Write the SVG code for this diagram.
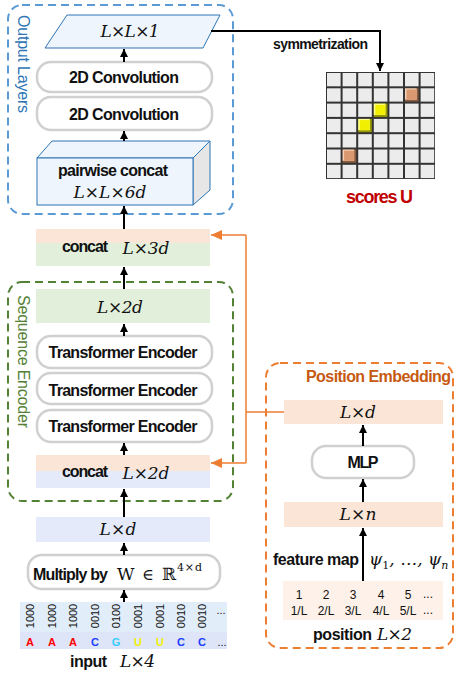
<svg xmlns="http://www.w3.org/2000/svg" width="459" height="673" viewBox="0 0 459 673">
<defs>
<marker id="ah" markerUnits="userSpaceOnUse" markerWidth="9" markerHeight="9" refX="8" refY="4.5" orient="auto"><path d="M0,0.5 L8,4.5 L0,8.5 z" fill="#000"/></marker>
<marker id="aho" markerUnits="userSpaceOnUse" markerWidth="12" markerHeight="10" refX="11" refY="5" orient="auto"><path d="M0,0 L11,5 L0,10 z" fill="#ed7d31"/></marker>
<style>
.b{font-family:"Liberation Sans",Arial,sans-serif;font-weight:bold;font-size:16px;fill:#111}
.r{font-family:"Liberation Sans",Arial,sans-serif;font-size:16px}
.m{font-family:"DejaVu Serif","Liberation Serif",serif;font-style:italic;font-size:17px;fill:#111}
.pill{fill:#fff;stroke:#d0d0d0;stroke-width:2.5}
.blk{stroke:#000;stroke-width:2;fill:none;marker-end:url(#ah)}
.org{stroke:#ed7d31;stroke-width:1.5;fill:none}
.peach{fill:#fbe5d6}
.green{fill:#e2efda}
.blue{fill:#e4eafa}
.nt{font-family:"Liberation Sans",Arial,sans-serif;font-size:11px;fill:#111;text-anchor:middle}
.pt{font-family:"Liberation Sans",Arial,sans-serif;font-size:12px;fill:#111;text-anchor:middle}
.let{font-family:"Liberation Sans",Arial,sans-serif;font-weight:bold;font-size:11px;text-anchor:middle}
.sr{font-family:"DejaVu Serif","Liberation Serif",serif;fill:#111}
</style>
</defs>
<rect width="459" height="673" fill="#fff"/>

<g id="output-layers">
<rect x="8" y="5" width="225" height="209" rx="14" fill="none" stroke="#5b9bd5" stroke-width="2" stroke-dasharray="8,5"/>
<text class="r" transform="translate(18,15) rotate(90)" fill="#2e75b6" textLength="98">Output Layers</text>
</g>

<g id="sequence-encoder">
<rect x="8" y="282" width="225" height="219" rx="14" fill="none" stroke="#548235" stroke-width="2" stroke-dasharray="8,5"/>
<text class="r" transform="translate(18,295) rotate(90)" fill="#548235" textLength="133">Sequence Encoder</text>
</g>

<g id="position-embedding">
<rect x="266" y="363" width="187" height="285" rx="14" fill="none" stroke="#ed7d31" stroke-width="2" stroke-dasharray="8,5"/>
<text class="b" x="451" y="382" text-anchor="end" style="fill:#c65911;font-size:16px" textLength="145">Position Embedding</text>
</g>

<g id="llx1">
<polygon points="67,15 220,15 203,48 45,48" fill="#eef5fc" stroke="#2e75b6" stroke-width="1"/>
<text class="m" x="130" y="37" text-anchor="middle" textLength="59">L×L×1</text>
</g>

<g id="conv1">
<rect class="pill" x="37" y="62" width="175" height="30" rx="14"/>
<text class="b" x="124" y="83" text-anchor="middle" textLength="110">2D Convolution</text>
</g>
<g id="conv2">
<rect class="pill" x="37" y="97" width="175" height="33" rx="14"/>
<text class="b" x="124" y="120" text-anchor="middle" textLength="110">2D Convolution</text>
</g>

<g id="pairwise">
<polygon points="37,158 52,141 210,141 193,158" fill="#eef5fc" stroke="#2e75b6" stroke-width="1"/>
<polygon points="193,158 210,141 210,190 193,205" fill="#e6e6e6" stroke="#2e75b6" stroke-width="1"/>
<rect x="37" y="158" width="156" height="47" fill="#eef5fc" stroke="#2e75b6" stroke-width="1"/>
<text class="b" x="113" y="176" text-anchor="middle" textLength="110">pairwise concat</text>
<text class="m" x="110" y="198" text-anchor="middle" textLength="73">L×L×6d</text>
</g>

<g id="concat3d">
<rect class="peach" x="36" y="229" width="174" height="14"/>
<rect class="green" x="36" y="243" width="174" height="23"/>
<text class="b" x="85" y="252" text-anchor="middle" textLength="46">concat</text>
<text class="m" x="146" y="254" text-anchor="middle" textLength="47">L×3d</text>
</g>

<g id="l2d">
<rect class="green" x="36" y="289" width="174" height="34"/>
<text class="m" x="120" y="313" text-anchor="middle" textLength="46">L×2d</text>
</g>

<g id="te1">
<rect class="pill" x="37" y="336" width="175" height="32" rx="14"/>
<text class="b" x="123" y="358" text-anchor="middle" textLength="149">Transformer Encoder</text>
</g>
<g id="te2">
<rect class="pill" x="37" y="373" width="175" height="31" rx="14"/>
<text class="b" x="123" y="396" text-anchor="middle" textLength="149">Transformer Encoder</text>
</g>
<g id="te3">
<rect class="pill" x="37" y="410" width="175" height="32" rx="14"/>
<text class="b" x="123" y="432" text-anchor="middle" textLength="149">Transformer Encoder</text>
</g>

<g id="concat2d">
<rect class="peach" x="36" y="455" width="174" height="16"/>
<rect class="blue" x="36" y="471" width="174" height="17"/>
<text class="b" x="85" y="477" text-anchor="middle" textLength="46">concat</text>
<text class="m" x="146" y="479" text-anchor="middle" textLength="47">L×2d</text>
</g>

<g id="ld">
<rect class="blue" x="36" y="517" width="174" height="25"/>
<text class="m" x="118" y="535" text-anchor="middle" textLength="37">L×d</text>
</g>

<g id="multiply">
<rect class="pill" x="28" y="555" width="192" height="34" rx="14"/>
<text class="b" x="33" y="580" textLength="75">Multiply by</text>
<text class="sr" x="117" y="580" font-size="17">W</text>
<text class="sr" x="142" y="580" font-size="16">∈</text>
<text class="sr" x="162" y="580" font-size="17">ℝ</text>
<text class="sr" x="177" y="571" font-size="11" textLength="25">4×d</text>
</g>

<g id="input">
<rect x="20" y="602" width="207" height="30" fill="#e1eef9"/>
<rect x="20" y="632" width="207" height="17" fill="#dfe5f8"/>
<text class="nt" transform="translate(34,616) rotate(-90)">1000</text>
<text class="nt" transform="translate(56,616) rotate(-90)">1000</text>
<text class="nt" transform="translate(77,616) rotate(-90)">1000</text>
<text class="nt" transform="translate(99,616) rotate(-90)">0010</text>
<text class="nt" transform="translate(120,616) rotate(-90)">0100</text>
<text class="nt" transform="translate(142,616) rotate(-90)">0001</text>
<text class="nt" transform="translate(164,616) rotate(-90)">0001</text>
<text class="nt" transform="translate(185,616) rotate(-90)">0010</text>
<text class="nt" transform="translate(206,616) rotate(-90)">0010</text>
<text class="nt" x="221" y="614">...</text>
<text class="let" x="30" y="646" fill="#ff0000">A</text>
<text class="let" x="52" y="646" fill="#ff0000">A</text>
<text class="let" x="73" y="646" fill="#ff0000">A</text>
<text class="let" x="95" y="646" fill="#1a3cff">C</text>
<text class="let" x="116" y="646" fill="#33ccff">G</text>
<text class="let" x="138" y="646" fill="#f0f000">U</text>
<text class="let" x="160" y="646" fill="#f0f000">U</text>
<text class="let" x="181" y="646" fill="#1a3cff">C</text>
<text class="let" x="202" y="646" fill="#1a3cff">C</text>
<text class="nt" x="222" y="646">...</text>
<text class="b" x="70" y="667" textLength="37">input</text>
<text class="m" x="120" y="667" textLength="35">L×4</text>
</g>

<g id="pe-ld">
<rect class="peach" x="284" y="400" width="159" height="24"/>
<text class="m" x="358" y="418" text-anchor="middle" textLength="36">L×d</text>
</g>
<g id="mlp">
<rect class="pill" x="312" y="446" width="102" height="32" rx="14"/>
<text class="b" x="363" y="468" text-anchor="middle" textLength="31">MLP</text>
</g>
<g id="pe-ln">
<rect class="peach" x="284" y="502" width="159" height="25"/>
<text class="m" x="358" y="520" text-anchor="middle" textLength="37">L×n</text>
</g>
<g id="position">
<rect x="283" y="581" width="160" height="39" fill="#fdf1ea"/>
<text class="pt" x="299" y="599">1</text>
<text class="pt" x="326" y="599">2</text>
<text class="pt" x="353" y="599">3</text>
<text class="pt" x="381" y="599">4</text>
<text class="pt" x="408" y="599">5</text>
<text class="pt" x="428" y="598">...</text>
<text class="pt" x="299" y="615">1/L</text>
<text class="pt" x="326" y="615">2/L</text>
<text class="pt" x="353" y="615">3/L</text>
<text class="pt" x="381" y="615">4/L</text>
<text class="pt" x="408" y="615">5/L</text>
<text class="pt" x="428" y="614">...</text>
<text class="b" x="313" y="640" textLength="59">position</text>
<text class="m" x="377" y="640" textLength="35">L×2</text>
</g>

<g id="scores">
<rect x="326" y="72" width="109" height="107" fill="#333"/>
<g fill="#ececec">
<rect x="327" y="73" width="13.6" height="13.3"/><rect x="342.6" y="73" width="13.6" height="13.3"/><rect x="358.2" y="73" width="13.6" height="13.3"/><rect x="373.8" y="73" width="13.6" height="13.3"/><rect x="389.4" y="73" width="13.6" height="13.3"/><rect x="405" y="73" width="13.6" height="13.3"/><rect x="420.6" y="73" width="13.6" height="13.3"/>
<rect x="327" y="88.3" width="13.6" height="13.3"/><rect x="342.6" y="88.3" width="13.6" height="13.3"/><rect x="358.2" y="88.3" width="13.6" height="13.3"/><rect x="373.8" y="88.3" width="13.6" height="13.3"/><rect x="389.4" y="88.3" width="13.6" height="13.3"/><rect x="420.6" y="88.3" width="13.6" height="13.3"/>
<rect x="327" y="103.6" width="13.6" height="13.3"/><rect x="342.6" y="103.6" width="13.6" height="13.3"/><rect x="358.2" y="103.6" width="13.6" height="13.3"/><rect x="389.4" y="103.6" width="13.6" height="13.3"/><rect x="405" y="103.6" width="13.6" height="13.3"/><rect x="420.6" y="103.6" width="13.6" height="13.3"/>
<rect x="327" y="118.9" width="13.6" height="13.3"/><rect x="342.6" y="118.9" width="13.6" height="13.3"/><rect x="373.8" y="118.9" width="13.6" height="13.3"/><rect x="389.4" y="118.9" width="13.6" height="13.3"/><rect x="405" y="118.9" width="13.6" height="13.3"/><rect x="420.6" y="118.9" width="13.6" height="13.3"/>
<rect x="327" y="134.2" width="13.6" height="13.3"/><rect x="342.6" y="134.2" width="13.6" height="13.3"/><rect x="358.2" y="134.2" width="13.6" height="13.3"/><rect x="373.8" y="134.2" width="13.6" height="13.3"/><rect x="389.4" y="134.2" width="13.6" height="13.3"/><rect x="405" y="134.2" width="13.6" height="13.3"/><rect x="420.6" y="134.2" width="13.6" height="13.3"/>
<rect x="327" y="149.5" width="13.6" height="13.3"/><rect x="358.2" y="149.5" width="13.6" height="13.3"/><rect x="373.8" y="149.5" width="13.6" height="13.3"/><rect x="389.4" y="149.5" width="13.6" height="13.3"/><rect x="405" y="149.5" width="13.6" height="13.3"/><rect x="420.6" y="149.5" width="13.6" height="13.3"/>
<rect x="327" y="164.8" width="13.6" height="13.3"/><rect x="342.6" y="164.8" width="13.6" height="13.3"/><rect x="358.2" y="164.8" width="13.6" height="13.3"/><rect x="373.8" y="164.8" width="13.6" height="13.3"/><rect x="389.4" y="164.8" width="13.6" height="13.3"/><rect x="405" y="164.8" width="13.6" height="13.3"/><rect x="420.6" y="164.8" width="13.6" height="13.3"/>
</g>
<rect x="405" y="88.3" width="13.6" height="13.3" fill="#8c5a3c"/><rect x="405" y="88.3" width="11.6" height="11.3" fill="#f2d2bb"/><rect x="406.5" y="89.5" width="10" height="10" fill="#d9986f"/>
<rect x="342.6" y="149.5" width="13.6" height="13.3" fill="#8c5a3c"/><rect x="342.6" y="149.5" width="11.6" height="11.3" fill="#f2d2bb"/><rect x="344.1" y="150.7" width="10" height="10" fill="#d9986f"/>
<rect x="373.8" y="103.6" width="13.6" height="13.3" fill="#9a9a00"/><rect x="373.8" y="103.6" width="11.6" height="11.3" fill="#ffff99"/><rect x="375.3" y="104.8" width="10" height="10" fill="#f0f000"/>
<rect x="358.2" y="118.9" width="13.6" height="13.3" fill="#9a9a00"/><rect x="358.2" y="118.9" width="11.6" height="11.3" fill="#ffff99"/><rect x="359.7" y="120.1" width="10" height="10" fill="#f0f000"/>
<text class="b" x="346" y="203" style="fill:#c00000;font-size:18px" textLength="67">scores U</text>
</g>

<g id="connectors">
<path class="blk" d="M211,31 H380 V71"/>
<text class="b" x="273" y="49" style="font-size:14px" textLength="95">symmetrization</text>
<path class="blk" d="M124,62 V49"/>
<path class="blk" d="M124,141 V131"/>
<path class="blk" d="M124,229 V206"/>
<path class="blk" d="M124,289 V267"/>
<path class="blk" d="M124,336 V324"/>
<path class="blk" d="M124,455 V443"/>
<path class="blk" d="M124,517 V489"/>
<path class="blk" d="M124,555 V543"/>
<path class="blk" d="M124,602 V590"/>
<path class="blk" d="M363,446 V425"/>
<path class="blk" d="M363,502 V479"/>
<path class="blk" d="M363,581 V528"/>
<text class="b" x="273" y="565" textLength="86">feature map</text>
<text class="m" x="369" y="565" style="font-size:17px">ψ<tspan font-size="11" font-style="normal" dy="4">1</tspan><tspan dy="-4">, …, ψ</tspan><tspan font-size="11" dy="4">n</tspan></text>
<path class="org" d="M284,412 H246"/>
<path class="org" d="M246,235 V463"/>
<path class="org" d="M246,235 H211" marker-end="url(#aho)"/>
<path class="org" d="M246,463 H211" marker-end="url(#aho)"/>
</g>
</svg>
